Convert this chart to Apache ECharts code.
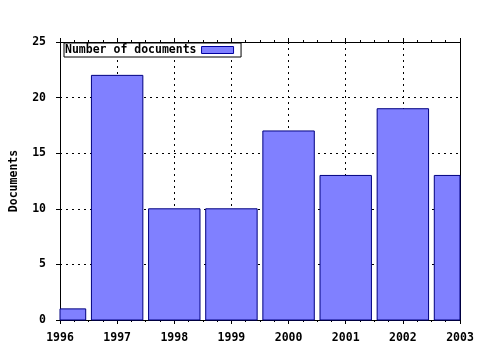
<!DOCTYPE html>
<html>
<head>
<meta charset="utf-8">
<script src="https://cdn.jsdelivr.net/npm/echarts@6/dist/echarts.min.js"></script>
<style>html,body{margin:0;padding:0;background:#fff;}#c{width:480px;height:350px;}</style>
</head>
<body>
<div id="c"></div>
<script>
const years = [1996, 1997, 1998, 1999, 2000, 2001, 2002, 2003];
const documents = [1, 22, 10, 10, 17, 13, 19, 13];
const seriesName = 'Number of documents';
const yTitle = 'Documents';

const FONT = 'DejaVu Sans Mono';
const chart = echarts.init(document.getElementById('c'), null, {renderer: 'canvas'});
const xCommon = {
  type: 'value', min: 1996, max: 2003, interval: 1,
  axisLine: {show: true, onZero: false, lineStyle: {color: '#000', width: 1}},
  axisTick: {show: true, length: 4, lineStyle: {color: '#000'}},
  minorTick: {show: true, splitNumber: 4, length: 2, lineStyle: {color: '#000'}}
};
chart.setOption({
  animation: false,
  backgroundColor: '#fff',
  grid: {left: 57, right: 20, top: 42, bottom: 30, containLabel: false},
  legend: {
    left: 64, top: 43,
    data: [{name: seriesName, icon: 'rect'}],
    align: 'right',
    backgroundColor: '#fff',
    borderColor: '#000', borderWidth: 1, borderRadius: 0,
    padding: [1, 7, 1, 1],
    itemWidth: 32, itemHeight: 7,
    itemStyle: {color: '#8080ff', borderColor: '#0000a0', borderWidth: 1},
    textStyle: {fontFamily: FONT, fontWeight: 'bold', fontSize: 11.5, color: '#000', lineHeight: 12},
    selectedMode: false
  },
  xAxis: [
    Object.assign({}, xCommon, {
      position: 'bottom',
      axisLabel: {show: true, fontFamily: FONT, fontWeight: 'bold', fontSize: 11.5, color: '#000', margin: 12,
        formatter: v => String(v)},
      splitLine: {show: true, lineStyle: {color: '#000', type: [2, 4], width: 1}}
    }),
    Object.assign({}, xCommon, {
      position: 'top',
      axisLabel: {show: false},
      splitLine: {show: false}
    })
  ],
  yAxis: [
    {
      type: 'value', min: 0, max: 25, interval: 5,
      name: yTitle, nameLocation: 'middle', nameGap: 40, nameRotate: 90,
      nameTextStyle: {fontFamily: FONT, fontWeight: 'bold', fontSize: 11.5, color: '#000'},
      axisLine: {show: true, lineStyle: {color: '#000', width: 1}},
      axisTick: {show: true, length: 4, lineStyle: {color: '#000'}},
      axisLabel: {fontFamily: FONT, fontWeight: 'bold', fontSize: 11.5, color: '#000', margin: 14},
      splitLine: {show: true, lineStyle: {color: '#000', type: [2, 4], width: 1}}
    },
    {
      type: 'value', min: 0, max: 25, interval: 5, position: 'right',
      axisLine: {show: true, lineStyle: {color: '#000', width: 1}},
      axisTick: {show: false}, axisLabel: {show: false}, splitLine: {show: false}
    }
  ],
  series: [{
    name: seriesName,
    type: 'custom',
    xAxisIndex: 0, yAxisIndex: 0,
    data: years.map((y, i) => [y, documents[i]]),
    encode: {x: 0, y: 1},
    itemStyle: {color: '#8080ff', borderColor: '#000080', borderWidth: 1},
    renderItem: function (params, api) {
      const x = api.value(0), v = api.value(1);
      const p0 = api.coord([x, 0]);
      const p1 = api.coord([x, v]);
      const w = api.size([0.9, 0])[0];
      const cs = params.coordSys;
      const shape = echarts.graphic.clipRectByRect(
        {x: p0[0] - w / 2, y: p1[1], width: w, height: p0[1] - p1[1]},
        {x: cs.x, y: cs.y, width: cs.width, height: cs.height});
      if (!shape) return null;
      return {type: 'rect', shape: shape, style: api.style({fill: '#8080ff', stroke: '#000080', lineWidth: 1})};
    }
  }]
});
</script>
</body>
</html>
